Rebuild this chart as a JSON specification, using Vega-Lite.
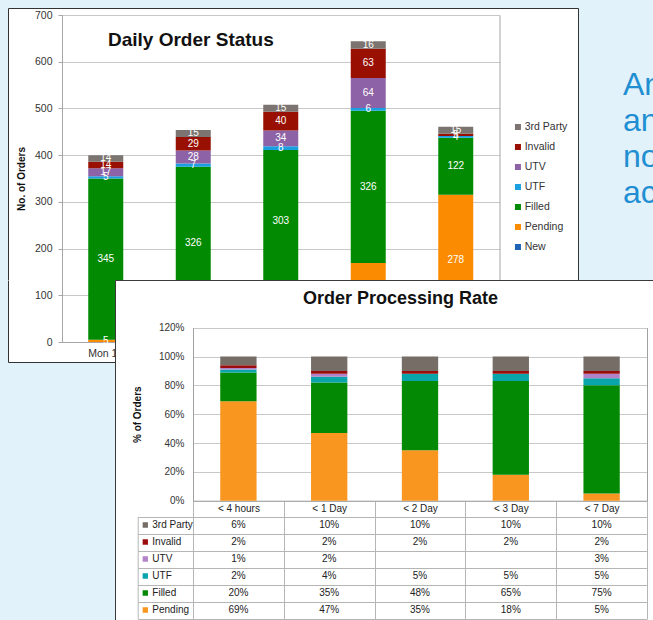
{
  "$schema": "https://vega.github.io/schema/vega-lite/v6.json",
  "background": "#e2f2fb",
  "padding": {"left": 5, "top": 8, "right": 0, "bottom": 0},
  "bounds": "flush",
  "spacing": 0,
  "resolve": {"scale": {"color": "independent"}, "legend": {"color": "independent"}},
  "config": {
    "font": "Liberation Sans",
    "view": {"stroke": null},
    "axis": {"labelFont": "Liberation Sans", "titleFont": "Liberation Sans"},
    "legend": {"labelFont": "Liberation Sans"}
  },
  "datasets": {
    "stackSeq": [
      {"status": "New", "seq": 0},
      {"status": "Pending", "seq": 1},
      {"status": "Filled", "seq": 2},
      {"status": "UTF", "seq": 3},
      {"status": "UTV", "seq": 4},
      {"status": "Invalid", "seq": 5},
      {"status": "3rd Party", "seq": 6}
    ],
    "daily": [
      {"day": "Mon 18", "status": "Pending", "count": 5},
      {"day": "Mon 18", "status": "Filled", "count": 345},
      {"day": "Mon 18", "status": "UTF", "count": 5},
      {"day": "Mon 18", "status": "UTV", "count": 17},
      {"day": "Mon 18", "status": "Invalid", "count": 14},
      {"day": "Mon 18", "status": "3rd Party", "count": 14},
      {"day": "Tue 19", "status": "Pending", "count": 49},
      {"day": "Tue 19", "status": "Filled", "count": 326},
      {"day": "Tue 19", "status": "UTF", "count": 7},
      {"day": "Tue 19", "status": "UTV", "count": 28},
      {"day": "Tue 19", "status": "Invalid", "count": 29},
      {"day": "Tue 19", "status": "3rd Party", "count": 15},
      {"day": "Wed 20", "status": "Pending", "count": 108},
      {"day": "Wed 20", "status": "Filled", "count": 303},
      {"day": "Wed 20", "status": "UTF", "count": 8},
      {"day": "Wed 20", "status": "UTV", "count": 34},
      {"day": "Wed 20", "status": "Invalid", "count": 40},
      {"day": "Wed 20", "status": "3rd Party", "count": 15},
      {"day": "Thu 21", "status": "Pending", "count": 169},
      {"day": "Thu 21", "status": "Filled", "count": 326},
      {"day": "Thu 21", "status": "UTF", "count": 6},
      {"day": "Thu 21", "status": "UTV", "count": 64},
      {"day": "Thu 21", "status": "Invalid", "count": 63},
      {"day": "Thu 21", "status": "3rd Party", "count": 16},
      {"day": "Fri 22", "status": "New", "count": 37},
      {"day": "Fri 22", "status": "Pending", "count": 278},
      {"day": "Fri 22", "status": "Filled", "count": 122},
      {"day": "Fri 22", "status": "UTF", "count": 4},
      {"day": "Fri 22", "status": "Invalid", "count": 5},
      {"day": "Fri 22", "status": "3rd Party", "count": 15}
    ],
    "rate": [
      {"bucket": "< 4 hours", "status": "Pending", "pct": 0.69},
      {"bucket": "< 4 hours", "status": "Filled", "pct": 0.20},
      {"bucket": "< 4 hours", "status": "UTF", "pct": 0.02},
      {"bucket": "< 4 hours", "status": "UTV", "pct": 0.01},
      {"bucket": "< 4 hours", "status": "Invalid", "pct": 0.02},
      {"bucket": "< 4 hours", "status": "3rd Party", "pct": 0.06},
      {"bucket": "< 1 Day", "status": "Pending", "pct": 0.47},
      {"bucket": "< 1 Day", "status": "Filled", "pct": 0.35},
      {"bucket": "< 1 Day", "status": "UTF", "pct": 0.04},
      {"bucket": "< 1 Day", "status": "UTV", "pct": 0.02},
      {"bucket": "< 1 Day", "status": "Invalid", "pct": 0.02},
      {"bucket": "< 1 Day", "status": "3rd Party", "pct": 0.10},
      {"bucket": "< 2 Day", "status": "Pending", "pct": 0.35},
      {"bucket": "< 2 Day", "status": "Filled", "pct": 0.48},
      {"bucket": "< 2 Day", "status": "UTF", "pct": 0.05},
      {"bucket": "< 2 Day", "status": "Invalid", "pct": 0.02},
      {"bucket": "< 2 Day", "status": "3rd Party", "pct": 0.10},
      {"bucket": "< 3 Day", "status": "Pending", "pct": 0.18},
      {"bucket": "< 3 Day", "status": "Filled", "pct": 0.65},
      {"bucket": "< 3 Day", "status": "UTF", "pct": 0.05},
      {"bucket": "< 3 Day", "status": "Invalid", "pct": 0.02},
      {"bucket": "< 3 Day", "status": "3rd Party", "pct": 0.10},
      {"bucket": "< 7 Day", "status": "Pending", "pct": 0.05},
      {"bucket": "< 7 Day", "status": "Filled", "pct": 0.75},
      {"bucket": "< 7 Day", "status": "UTF", "pct": 0.05},
      {"bucket": "< 7 Day", "status": "UTV", "pct": 0.03},
      {"bucket": "< 7 Day", "status": "Invalid", "pct": 0.02},
      {"bucket": "< 7 Day", "status": "3rd Party", "pct": 0.10}
    ]
  },
  "vconcat": [
    {
      "width": 570,
      "height": 272,
      "view": {"fill": "white", "stroke": null},
      "title": {"text": "Daily Order Status", "anchor": "start", "frame": "group", "dx": 100, "offset": -56.7, "baseline": "alphabetic", "fontSize": 19, "fontWeight": "bold", "color": "#111111"},
      "layer": [
        {
          "layer": [
            {
              "data": {"name": "daily"},
              "transform": [{"lookup": "status", "from": {"data": {"name": "stackSeq"}, "key": "status", "fields": ["seq"]}}],
              "encoding": {
                "x": {
                  "field": "day", "type": "nominal",
                  "sort": ["Mon 18", "Tue 19", "Wed 20", "Thu 21", "Fri 22"],
                  "scale": {"range": [54, 491.5], "paddingInner": 0.6, "paddingOuter": 0.3},
                  "axis": null
                },
                "order": {"field": "seq", "type": "quantitative"}
              },
              "layer": [
                {
                  "mark": {"type": "bar"},
                  "encoding": {
                    "y": {
                      "field": "count", "type": "quantitative", "stack": "zero",
                      "scale": {"domain": [0, 700], "range": [334, 7], "nice": false},
                      "axis": {"orient": "left", "offset": -54, "values": [200, 300, 400, 500, 600, 700], "grid": true, "gridColor": "#c8c8c8", "domainColor": "#a6a6a6", "tickColor": "#a6a6a6", "tickSize": 4, "labelFontSize": 10.5, "labelColor": "#333333", "labelPadding": 6, "title": "No. of Orders", "titleFontSize": 10, "titleFontWeight": "bold", "titlePadding": 8, "titleColor": "#111111"}
                    },
                    "color": {
                      "field": "status", "type": "nominal",
                      "scale": {"domain": ["3rd Party", "Invalid", "UTV", "UTF", "Filled", "Pending", "New"], "range": ["#7c7470", "#990f02", "#8e62a6", "#1a9fe0", "#028a02", "#fb8b00", "#1d62b5"]},
                      "legend": {"orient": "none", "legendX": 504.7, "legendY": 109, "title": null, "symbolType": "square", "symbolSize": 36, "symbolStrokeWidth": 0, "labelFontSize": 10.5, "labelColor": "#333333", "labelOffset": 1.5, "clipHeight": 20, "rowPadding": 0, "padding": 0}
                    }
                  }
                },
                {
                  "mark": {"type": "text", "fontSize": 10},
                  "encoding": {
                    "y": {
                      "field": "count", "type": "quantitative", "stack": "zero", "bandPosition": 0.5,
                      "scale": {"domain": [0, 700], "range": [334, 7], "nice": false},
                      "axis": {"orient": "right", "offset": -78.5, "labels": false, "ticks": false, "grid": false, "title": null, "domainColor": "#a6a6a6"}
                    },
                    "color": {"field": "status", "type": "nominal", "condition": {"test": "true", "value": "white"}},
                    "text": {"field": "count", "type": "quantitative"}
                  }
                }
              ],
              "resolve": {"axis": {"y": "independent"}}
            },
            {
              "data": {"values": [{}]},
              "mark": {"type": "text", "align": "left", "baseline": "alphabetic", "dx": 167.25, "fontSize": 32, "lineHeight": 36, "color": "#1f8fd2"},
              "encoding": {
                "x": {"datum": "Fri 22", "axis": null},
                "y": {"datum": 528.7, "axis": null},
                "text": {"value": ["An", "an", "no", "ac"]}
              }
            }
          ]
        },
        {
          "data": {"values": [{}]},
          "mark": {"type": "point", "opacity": 0},
          "encoding": {
            "x": {"datum": 0, "type": "quantitative", "scale": {"domain": [0, 1]}, "axis": {"orient": "top", "offset": 0, "labels": false, "ticks": false, "grid": false, "title": null, "domainColor": "#333333", "domainWidth": 1}},
            "y": {"datum": 0, "type": "quantitative", "scale": {"domain": [0, 1]}, "axis": {"orient": "left", "offset": 0, "labels": false, "ticks": false, "grid": false, "title": null, "domainColor": "#333333", "domainWidth": 1}}
          }
        },
        {
          "data": {"values": [{}]},
          "mark": {"type": "point", "opacity": 0},
          "encoding": {
            "y": {"datum": 0, "type": "quantitative", "scale": {"domain": [0, 1]}, "axis": {"orient": "right", "offset": 0, "labels": false, "ticks": false, "grid": false, "title": null, "domainColor": "#333333", "domainWidth": 1}}
          }
        }
      ],
      "resolve": {"scale": {"x": "independent", "y": "independent"}, "axis": {"x": "independent", "y": "independent"}}
    },
    {
      "spacing": 0,
      "bounds": "flush",
      "resolve": {"legend": {"color": "independent"}, "scale": {"color": "independent"}},
      "hconcat": [
        {
          "width": 107,
          "height": 82,
          "view": {"fill": "white", "stroke": null},
          "layer": [
            {
              "data": {"name": "daily"},
              "transform": [
                {"filter": "datum.day == 'Mon 18'"},
                {"lookup": "status", "from": {"data": {"name": "stackSeq"}, "key": "status", "fields": ["seq"]}}
              ],
              "encoding": {
                "x": {
                  "field": "day", "type": "nominal",
                  "scale": {"domain": ["Mon 18", "Tue 19", "Wed 20", "Thu 21", "Fri 22"], "range": [54, 491.5], "paddingInner": 0.6, "paddingOuter": 0.3},
                  "axis": {"orient": "bottom", "offset": -20, "labelAngle": 0, "ticks": false, "domainColor": "#a6a6a6", "labelFontSize": 10.5, "labelColor": "#333333", "labelPadding": 6, "title": null, "grid": false}
                },
                "order": {"field": "seq", "type": "quantitative"}
              },
              "layer": [
                {
                  "mark": {"type": "bar", "clip": true},
                  "encoding": {
                    "y": {
                      "field": "count", "type": "quantitative", "stack": "zero",
                      "scale": {"domain": [0, 700], "range": [62, -265], "nice": false},
                      "axis": {"orient": "left", "offset": -54, "values": [0, 100], "grid": true, "gridColor": "#c8c8c8", "domainColor": "#a6a6a6", "tickColor": "#a6a6a6", "tickSize": 4, "labelFontSize": 10.5, "labelColor": "#333333", "labelPadding": 6, "title": null}
                    },
                    "color": {
                      "field": "status", "type": "nominal",
                      "scale": {"domain": ["3rd Party", "Invalid", "UTV", "UTF", "Filled", "Pending", "New"], "range": ["#7c7470", "#990f02", "#8e62a6", "#1a9fe0", "#028a02", "#fb8b00", "#1d62b5"]},
                      "legend": null
                    }
                  }
                },
                {
                  "mark": {"type": "text", "fontSize": 10, "clip": true},
                  "encoding": {
                    "y": {
                      "field": "count", "type": "quantitative", "stack": "zero", "bandPosition": 0.5,
                      "scale": {"domain": [0, 700], "range": [62, -265], "nice": false},
                      "axis": {"orient": "right", "offset": 0, "labels": false, "ticks": false, "grid": false, "domain": false, "title": null}
                    },
                    "color": {"field": "status", "type": "nominal", "condition": {"test": "true", "value": "white"}},
                    "text": {"field": "count", "type": "quantitative"}
                  }
                }
              ],
              "resolve": {"axis": {"y": "independent"}}
            },
            {
              "data": {"values": [{}]},
              "mark": {"type": "point", "opacity": 0},
              "encoding": {
                "x": {"datum": 0, "type": "quantitative", "scale": {"domain": [0, 1]}, "axis": {"orient": "bottom", "offset": 0, "labels": false, "ticks": false, "grid": false, "title": null, "domainColor": "#333333", "domainWidth": 1}},
                "y": {"datum": 0, "type": "quantitative", "scale": {"domain": [0, 1]}, "axis": {"orient": "left", "offset": 0, "labels": false, "ticks": false, "grid": false, "title": null, "domainColor": "#333333", "domainWidth": 1}}
              }
            }
          ],
          "resolve": {"scale": {"x": "independent", "y": "independent", "color": "independent"}, "axis": {"x": "independent", "y": "independent"}}
        },
        {
          "width": 538,
          "height": 340,
          "view": {"fill": "white", "stroke": "#3a3a3a", "strokeWidth": 1},
          "title": {"text": "Order Processing Rate", "anchor": "start", "frame": "group", "dx": 188, "offset": -42, "baseline": "alphabetic", "fontSize": 18, "fontWeight": "bold", "color": "#111111"},
          "data": {"name": "rate"},
          "transform": [{"lookup": "status", "from": {"data": {"name": "stackSeq"}, "key": "status", "fields": ["seq"]}}],
          "encoding": {
            "x": {
              "field": "bucket", "type": "nominal",
              "sort": ["< 4 hours", "< 1 Day", "< 2 Day", "< 3 Day", "< 7 Day"],
              "scale": {"range": [78, 532], "paddingInner": 0, "paddingOuter": 0},
              "axis": {"orient": "bottom", "offset": -119.3, "labelAngle": 0, "tickBand": "extent", "ticks": true, "tickSize": 117.8, "tickColor": "#b5b5b5", "domainColor": "#a0a0a0", "labelFontSize": 10, "labelColor": "#222222", "labelPadding": -109.9, "labelBaseline": "middle", "title": null, "grid": false}
            }
          },
          "layer": [
            {
              "mark": {"type": "bar", "width": {"band": 0.4}},
              "encoding": {
                "y": {
                  "field": "pct", "type": "quantitative", "stack": "zero",
                  "scale": {"domain": [0, 1.2], "range": [220.7, 47.7], "nice": false},
                  "axis": {"orient": "left", "offset": -78, "values": [0, 0.2, 0.4, 0.6, 0.8, 1, 1.2], "format": ".0%", "grid": true, "gridColor": "#c8c8c8", "ticks": false, "domainColor": "#a0a0a0", "labelFontSize": 10, "labelColor": "#333333", "labelPadding": 9, "title": "% of Orders", "titleFontSize": 10, "titleFontWeight": "bold", "titlePadding": 16, "titleColor": "#111111"}
                },
                "order": {"field": "seq", "type": "quantitative"},
                "color": {
                  "field": "status", "type": "nominal",
                  "scale": {"domain": ["3rd Party", "Invalid", "UTV", "UTF", "Filled", "Pending"], "range": ["#776d67", "#9b0d0d", "#b383c9", "#0aa4ab", "#038903", "#f8961f"]},
                  "legend": {"orient": "none", "legendX": 25.3, "legendY": 236.5, "title": null, "symbolType": "square", "symbolSize": 28, "symbolStrokeWidth": 0, "labelFontSize": 10, "labelColor": "#222222", "labelOffset": 2, "clipHeight": 17, "rowPadding": 0, "padding": 0}
                }
              }
            },
            {
              "mark": {"type": "text", "fontSize": 10, "color": "#222222"},
              "encoding": {
                "y": {
                  "field": "status", "type": "nominal",
                  "scale": {"type": "band", "domain": ["3rd Party", "Invalid", "UTV", "UTF", "Filled", "Pending"], "range": [236.5, 338.5], "paddingInner": 0, "paddingOuter": 0},
                  "axis": {"orient": "left", "offset": -22.7, "labels": false, "title": null, "tickBand": "extent", "tickSize": -509.3, "tickColor": "#b5b5b5", "domainColor": "#b5b5b5", "grid": false}
                },
                "text": {"field": "pct", "type": "quantitative", "format": ".0%"}
              }
            },
            {
              "mark": {"type": "point", "opacity": 0},
              "encoding": {
                "y": {
                  "field": "pct", "type": "quantitative",
                  "scale": {"domain": [0, 1.2], "range": [220.7, 47.7], "nice": false},
                  "axis": {"orient": "right", "offset": -6, "labels": false, "ticks": false, "grid": false, "title": null, "domainColor": "#a0a0a0"}
                }
              }
            }
          ],
          "resolve": {"scale": {"y": "independent"}, "axis": {"y": "independent"}}
        }
      ]
    }
  ]
}
